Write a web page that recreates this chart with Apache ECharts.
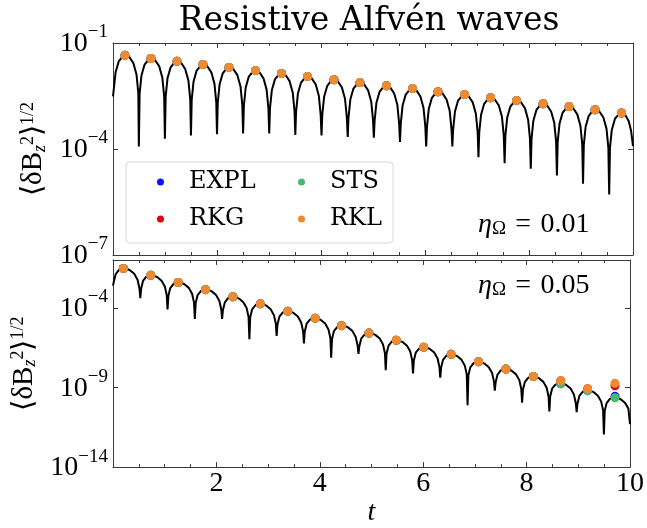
<!DOCTYPE html>
<html><head><meta charset="utf-8">
<script src="https://cdn.jsdelivr.net/npm/echarts@6/dist/echarts.min.js"></script>
<style>html,body{margin:0;padding:0;background:#fff}#c{width:647px;height:528px}</style>
</head><body><div id="c"></div>
<script>
// ---------- data (log10 of <dBz^2>^(1/2)) ----------
// black curve, top panel (eta = 0.01)
const tTop = [
0,0.050,0.110,0.191,0.251,0.311,0.392,0.452,0.487,0.497,
0.512,0.547,0.607,0.688,0.748,0.808,0.889,0.949,0.984,0.998,
1.013,1.048,1.108,1.189,1.249,1.309,1.390,1.450,1.485,1.499,
1.514,1.549,1.609,1.690,1.750,1.810,1.891,1.951,1.986,2.000,
2.015,2.050,2.110,2.191,2.251,2.311,2.392,2.452,2.487,2.502,
2.517,2.552,2.612,2.693,2.753,2.813,2.894,2.954,2.989,3.004,
3.019,3.054,3.114,3.195,3.255,3.315,3.396,3.456,3.491,3.506,
3.521,3.556,3.616,3.697,3.757,3.817,3.898,3.958,3.993,4.010,
4.025,4.060,4.120,4.201,4.261,4.321,4.402,4.462,4.497,4.514,
4.529,4.564,4.624,4.705,4.765,4.825,4.906,4.966,5.001,5.016,
5.031,5.066,5.126,5.207,5.267,5.327,5.408,5.468,5.503,5.519,
5.534,5.569,5.629,5.710,5.770,5.830,5.911,5.971,6.006,6.023,
6.038,6.073,6.133,6.214,6.274,6.334,6.415,6.475,6.510,6.526,
6.541,6.576,6.636,6.717,6.777,6.837,6.918,6.978,7.013,7.028,
7.043,7.078,7.138,7.219,7.279,7.339,7.420,7.480,7.515,7.531,
7.546,7.581,7.641,7.722,7.782,7.842,7.923,7.983,8.018,8.034,
8.049,8.084,8.144,8.225,8.285,8.345,8.426,8.486,8.521,8.537,
8.552,8.587,8.647,8.728,8.788,8.848,8.929,8.989,9.024,9.039,
9.054,9.089,9.149,9.230,9.290,9.350,9.431,9.491,9.526,9.542,
9.557,9.592,9.652,9.733,9.790,9.850,9.920,9.965,10.0];
const logBzTop = [
-2.51,-1.83,-1.52,-1.37,-1.35,-1.39,-1.57,-1.89,-2.42,-3.93,
-2.43,-1.92,-1.61,-1.46,-1.44,-1.48,-1.66,-1.98,-2.51,-3.71,
-2.51,-2.00,-1.69,-1.54,-1.52,-1.56,-1.74,-2.06,-2.59,-3.62,
-2.60,-2.09,-1.78,-1.63,-1.61,-1.65,-1.83,-2.15,-2.68,-3.58,
-2.68,-2.17,-1.86,-1.71,-1.69,-1.73,-1.91,-2.23,-2.76,-3.56,
-2.77,-2.26,-1.95,-1.80,-1.78,-1.82,-2.00,-2.32,-2.85,-3.56,
-2.85,-2.34,-2.03,-1.88,-1.86,-1.90,-2.08,-2.40,-2.93,-3.60,
-2.94,-2.43,-2.12,-1.97,-1.95,-1.99,-2.17,-2.49,-3.02,-3.62,
-3.03,-2.52,-2.21,-2.06,-2.04,-2.08,-2.26,-2.58,-3.11,-3.66,
-3.11,-2.60,-2.29,-2.14,-2.12,-2.16,-2.34,-2.66,-3.19,-3.68,
-3.20,-2.69,-2.38,-2.23,-2.21,-2.25,-2.43,-2.75,-3.28,-3.80,
-3.28,-2.77,-2.46,-2.31,-2.29,-2.33,-2.51,-2.83,-3.36,-3.93,
-3.37,-2.86,-2.55,-2.40,-2.38,-2.42,-2.60,-2.92,-3.45,-3.93,
-3.45,-2.94,-2.63,-2.48,-2.46,-2.50,-2.68,-3.00,-3.53,-4.23,
-3.54,-3.03,-2.72,-2.57,-2.55,-2.59,-2.77,-3.09,-3.62,-4.40,
-3.62,-3.11,-2.80,-2.65,-2.63,-2.67,-2.85,-3.17,-3.70,-4.56,
-3.71,-3.20,-2.89,-2.74,-2.72,-2.76,-2.94,-3.26,-3.79,-4.75,
-3.79,-3.28,-2.97,-2.82,-2.80,-2.84,-3.02,-3.34,-3.87,-4.98,
-3.88,-3.37,-3.06,-2.91,-2.89,-2.93,-3.11,-3.43,-3.96,-5.29,
-3.97,-3.46,-3.15,-3.00,-2.98,-3.03,-3.22,-3.50,-3.92];

// black curve, bottom panel (eta = 0.05)
const tBot = [
0,0.016,0.053,0.116,0.200,0.264,0.327,0.411,0.475,0.512,0.528,
0.544,0.581,0.644,0.728,0.792,0.855,0.939,1.003,1.040,1.055,
1.071,1.108,1.171,1.255,1.319,1.382,1.466,1.530,1.567,1.583,
1.599,1.636,1.699,1.783,1.847,1.910,1.994,2.058,2.095,2.110,
2.126,2.163,2.226,2.310,2.374,2.437,2.521,2.585,2.622,2.638,
2.654,2.691,2.754,2.838,2.902,2.965,3.049,3.113,3.150,3.165,
3.181,3.218,3.281,3.365,3.429,3.492,3.576,3.640,3.677,3.693,
3.709,3.746,3.809,3.893,3.957,4.020,4.104,4.168,4.205,4.220,
4.236,4.273,4.336,4.420,4.484,4.547,4.631,4.695,4.732,4.748,
4.764,4.801,4.864,4.948,5.012,5.075,5.159,5.223,5.260,5.275,
5.291,5.328,5.391,5.475,5.539,5.602,5.686,5.750,5.787,5.803,
5.819,5.856,5.919,6.003,6.067,6.130,6.214,6.278,6.315,6.330,
6.346,6.383,6.446,6.530,6.594,6.657,6.741,6.805,6.842,6.858,
6.874,6.911,6.974,7.058,7.122,7.185,7.269,7.333,7.370,7.385,
7.401,7.438,7.501,7.585,7.649,7.712,7.796,7.860,7.897,7.913,
7.929,7.966,8.029,8.113,8.177,8.240,8.324,8.388,8.425,8.440,
8.456,8.493,8.556,8.640,8.704,8.767,8.851,8.915,8.952,8.968,
8.984,9.021,9.084,9.168,9.232,9.295,9.379,9.443,9.480,9.495,
9.511,9.548,9.611,9.695,9.759,9.822,9.906,9.970,10.0];
const logBzBot = [
-2.61,-2.37,-1.88,-1.62,-1.53,-1.55,-1.64,-1.87,-2.24,-2.79,-3.39,
-2.80,-2.31,-2.05,-1.96,-1.98,-2.07,-2.30,-2.67,-3.22,-4.10,
-3.25,-2.76,-2.50,-2.41,-2.43,-2.52,-2.75,-3.12,-3.67,-4.70,
-3.70,-3.21,-2.95,-2.86,-2.88,-2.97,-3.20,-3.57,-4.12,-4.70,
-4.15,-3.66,-3.40,-3.31,-3.33,-3.42,-3.65,-4.02,-4.57,-5.98,
-4.59,-4.10,-3.84,-3.75,-3.77,-3.86,-4.09,-4.46,-5.01,-5.77,
-5.05,-4.56,-4.30,-4.21,-4.23,-4.32,-4.55,-4.92,-5.47,-6.23,
-5.49,-5.00,-4.74,-4.65,-4.67,-4.76,-4.99,-5.36,-5.91,-7.14,
-5.96,-5.47,-5.21,-5.12,-5.14,-5.23,-5.46,-5.83,-6.38,-6.90,
-6.43,-5.94,-5.68,-5.59,-5.61,-5.70,-5.93,-6.30,-6.85,-7.92,
-6.88,-6.39,-6.13,-6.04,-6.06,-6.15,-6.38,-6.75,-7.30,-8.12,
-7.31,-6.82,-6.56,-6.47,-6.49,-6.58,-6.81,-7.18,-7.73,-8.39,
-7.76,-7.27,-7.01,-6.92,-6.94,-7.03,-7.26,-7.63,-8.18,-10.12,
-8.23,-7.74,-7.48,-7.39,-7.41,-7.50,-7.73,-8.10,-8.65,-9.20,
-8.68,-8.19,-7.93,-7.84,-7.86,-7.95,-8.18,-8.55,-9.10,-9.96,
-9.15,-8.66,-8.40,-8.31,-8.33,-8.42,-8.65,-9.02,-9.57,-10.51,
-9.57,-9.08,-8.82,-8.73,-8.75,-8.84,-9.07,-9.44,-9.99,-10.55,
-10.02,-9.53,-9.27,-9.18,-9.20,-9.29,-9.52,-9.89,-10.44,-11.95,
-10.47,-9.98,-9.72,-9.63,-9.65,-9.74,-9.97,-10.34,-11.30];

// numerical solutions (dots), top panel
const tDotsTop = [0.23,0.73,1.23,1.73,2.23,2.74,3.24,3.74,4.25,4.75,5.26,5.76,6.25,6.76,7.26,7.76,8.27,8.77,9.27,9.78];
const explTop = [-1.35,-1.44,-1.52,-1.61,-1.69,-1.78,-1.86,-1.95,-2.04,-2.12,-2.21,-2.29,-2.38,-2.46,-2.55,-2.63,-2.72,-2.80,-2.89,-2.98];
const rkgTop  = [-1.35,-1.44,-1.52,-1.61,-1.69,-1.78,-1.86,-1.95,-2.04,-2.12,-2.21,-2.29,-2.38,-2.46,-2.55,-2.63,-2.72,-2.80,-2.89,-2.98];
const stsTop  = [-1.35,-1.44,-1.52,-1.61,-1.69,-1.78,-1.86,-1.95,-2.04,-2.12,-2.21,-2.29,-2.38,-2.46,-2.55,-2.63,-2.72,-2.80,-2.89,-2.98];
const rklTop  = [-1.35,-1.44,-1.52,-1.61,-1.69,-1.78,-1.86,-1.95,-2.04,-2.12,-2.21,-2.29,-2.38,-2.46,-2.55,-2.63,-2.72,-2.80,-2.89,-2.98];

// numerical solutions (dots), bottom panel
const tDotsBot = [0.20,0.73,1.26,1.79,2.32,2.85,3.38,3.91,4.42,4.95,5.48,6.01,6.54,7.07,7.60,8.13,8.66,9.18,9.71];
const explBot = [-1.53,-1.96,-2.41,-2.86,-3.31,-3.75,-4.21,-4.65,-5.12,-5.59,-6.04,-6.47,-6.92,-7.39,-7.84,-8.31,-8.77,-9.20,-9.56];
const rkgBot  = [-1.53,-1.96,-2.41,-2.86,-3.31,-3.75,-4.21,-4.65,-5.12,-5.59,-6.04,-6.47,-6.92,-7.39,-7.84,-8.31,-8.58,-9.08,-8.89];
const stsBot  = [-1.53,-1.96,-2.41,-2.86,-3.31,-3.75,-4.21,-4.65,-5.12,-5.59,-6.04,-6.47,-6.92,-7.39,-7.84,-8.31,-8.77,-9.20,-9.65];
const rklBot  = [-1.53,-1.96,-2.41,-2.86,-3.31,-3.75,-4.21,-4.65,-5.12,-5.59,-6.04,-6.47,-6.92,-7.39,-7.84,-8.31,-8.58,-9.08,-8.74];

// tick exponents
const yTicksTop = [-7, -4, -1];
const yTicksBot = [-14, -9, -4];
const methods = ['EXPL', 'RKG', 'STS', 'RKL'];
const methodColors = ['#0a14ff', '#e3000f', '#4cb86c', '#f08a2e'];

// ---------- chart ----------
const SERIF = '"DejaVu Serif", serif';
const MATH = '"Liberation Serif", "Times New Roman", serif';
const FRAME = '#3a3a3a';
const pairs = (t, v) => t.map((x, i) => [x, v[i]]);
const expLabel = v => '{b|10}{s|' + (v < 0 ? '\u2212' + (-v) : String(v)) + '}';
const expRich = {
  b: {fontFamily: MATH, fontSize: 28, lineHeight: 40, padding: [2, 0, 0, 0], verticalAlign: 'middle', color: '#000'},
  s: {fontFamily: MATH, fontSize: 19, lineHeight: 18, verticalAlign: 'top', color: '#000'}
};
const yName = '{n|\u27E8\u03B4B}{sub|z}{sup|2}{n|\u27E9}{sup|1/2}';
const nameRich = {
  n: {fontFamily: MATH, fontSize: 29, lineHeight: 30, verticalAlign: 'middle', color: '#000'},
  sub: {fontFamily: MATH, fontStyle: 'italic', fontSize: 18, lineHeight: 16, verticalAlign: 'bottom', color: '#000'},
  sup: {fontFamily: MATH, fontSize: 18, lineHeight: 14, verticalAlign: 'top', color: '#000'}
};
const etaRich = {
  i: {fontFamily: MATH, fontStyle: 'italic', fontSize: 28, lineHeight: 28, verticalAlign: 'middle', color: '#000'},
  sub: {fontFamily: MATH, fontSize: 19, lineHeight: 17, verticalAlign: 'bottom', color: '#000'},
  n: {fontFamily: MATH, fontSize: 28, lineHeight: 28, verticalAlign: 'middle', color: '#000'}
};

const grids = [
  {left: 113, top: 43, width: 520, height: 212},
  {left: 113, top: 260, width: 520, height: 213}
];
function xAx(gi, pos, labels) {
  return {
    type: 'value', gridIndex: gi, position: pos, min: 0, max: 10, interval: 2,
    axisLine: {show: true, onZero: false, lineStyle: {color: FRAME, width: 1}},
    axisTick: {show: true, inside: true, length: 5, lineStyle: {color: FRAME}},
    minorTick: {show: true, splitNumber: 4, length: 3, lineStyle: {color: FRAME}},
    splitLine: {show: false},
    axisLabel: {show: labels, margin: 3, color: '#000', fontFamily: MATH, fontSize: 28,
      formatter: v => (v === 0 ? '' : String(v))},
    name: labels ? 't' : '', nameLocation: 'middle', nameGap: 29,
    nameTextStyle: {fontFamily: MATH, fontStyle: 'italic', fontSize: 28, color: '#000'}
  };
}
function yAx(gi, pos, lo, hi, ticks, labels) {
  return {
    type: 'value', gridIndex: gi, position: pos, min: lo, max: hi,
    axisLine: {show: true, onZero: false, lineStyle: {color: FRAME, width: 1}},
    axisTick: {show: true, inside: true, length: 5, customValues: ticks, lineStyle: {color: FRAME}},
    splitLine: {show: false},
    axisLabel: {show: labels, customValues: ticks, formatter: expLabel, rich: expRich, margin: 5,
      showMinLabel: true, showMaxLabel: true},
    name: labels ? yName : '', nameLocation: 'middle', nameRotate: 90, nameGap: 61,
    nameTextStyle: {rich: nameRich}
  };
}

const series = [
  {type: 'line', name: 'analytic1', xAxisIndex: 0, yAxisIndex: 0, data: pairs(tTop, logBzTop),
   showSymbol: false, lineStyle: {color: '#000', width: 2}, silent: true},
  {type: 'line', name: 'analytic2', xAxisIndex: 2, yAxisIndex: 2, data: pairs(tBot, logBzBot),
   showSymbol: false, lineStyle: {color: '#000', width: 2}, silent: true}
];
const topVals = [explTop, rkgTop, stsTop, rklTop];
const botVals = [explBot, rkgBot, stsBot, rklBot];
methods.forEach((m, k) => {
  series.push({type: 'scatter', name: m, xAxisIndex: 0, yAxisIndex: 0, symbol: 'circle', symbolSize: 9,
    itemStyle: {color: methodColors[k], opacity: 1}, data: pairs(tDotsTop, topVals[k]), z: 3});
  series.push({type: 'scatter', name: m, xAxisIndex: 2, yAxisIndex: 2, symbol: 'circle', symbolSize: 9,
    itemStyle: {color: methodColors[k], opacity: 1}, data: pairs(tDotsBot, botVals[k]), z: 3});
});

const legendBase = {orient: 'vertical', top: 170, itemWidth: 47, itemHeight: 7, itemGap: 13,
  icon: 'circle', padding: 0, selectedMode: false, z: 10,
  textStyle: {fontFamily: SERIF, fontSize: 24, lineHeight: 24, color: '#000'}};

const option = {
  animation: false,
  backgroundColor: '#fff',
  title: {text: 'Resistive Alfv\u00e9n waves', left: 364, top: 0, textAlign: 'center',
    textStyle: {fontFamily: SERIF, fontSize: 33, fontWeight: 'normal', color: '#000'}},
  grid: grids,
  xAxis: [xAx(0, 'bottom', false), xAx(0, 'top', false), xAx(1, 'bottom', true), xAx(1, 'top', false)],
  yAxis: [yAx(0, 'left', -7, -1, yTicksTop, true), yAx(0, 'right', -7, -1, yTicksTop, false),
          yAx(1, 'left', -14, -1, yTicksBot, true), yAx(1, 'right', -14, -1, yTicksBot, false)],
  legend: [
    Object.assign({}, legendBase, {left: 157, data: ['EXPL', 'RKG']}),
    Object.assign({}, legendBase, {left: 298, data: ['STS', 'RKL']})
  ],
  graphic: [
    {type: 'rect', z: 5, shape: {x: 126, y: 162, width: 267, height: 81, r: 4},
     style: {fill: 'rgba(255,255,255,0.8)', stroke: '#d8d8d8', lineWidth: 1}},
    {type: 'text', z: 5, x: 478, y: 225, style: {text: '{i|\u03B7}{sub|\u03A9}{n|\u2004=\u20040.01}', rich: etaRich,
      align: 'left', verticalAlign: 'middle'}},
    {type: 'text', z: 5, x: 478, y: 286, style: {text: '{i|\u03B7}{sub|\u03A9}{n|\u2004=\u20040.05}', rich: etaRich,
      align: 'left', verticalAlign: 'middle'}}
  ],
  series: series
};
const chart = echarts.init(document.getElementById('c'), null, {renderer: 'canvas'});
chart.setOption(option);
</script>
</body></html>
